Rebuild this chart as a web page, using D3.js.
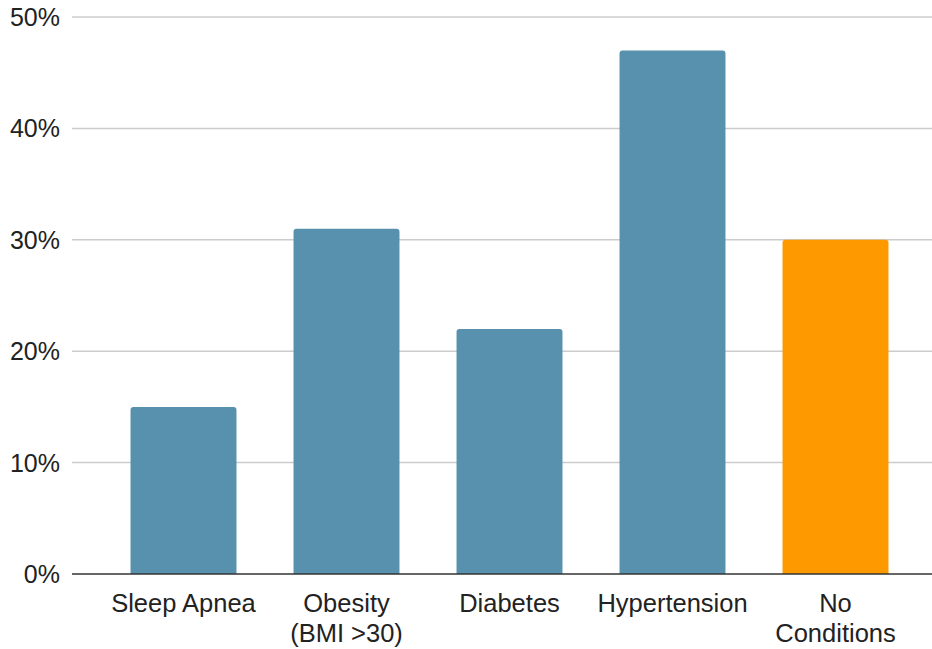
<!DOCTYPE html>
<html>
<head>
<meta charset="utf-8">
<script src="https://cdn.jsdelivr.net/npm/d3@7"></script>
<style>
  html, body { margin: 0; padding: 0; background: #fff; }
  svg { display: block; font-family: "Liberation Sans", Arial, sans-serif; }
</style>
</head>
<body>
<svg id="chart" width="932" height="649"></svg>
<script>
// Share of respondents by condition
const categories = ["Sleep Apnea", "Obesity\n(BMI >30)", "Diabetes", "Hypertension", "No\nConditions"];
const values = [15, 31, 22, 47, 30];
const barColors = ["#5891AE", "#5891AE", "#5891AE", "#5891AE", "#FF9900"];
const yTicks = [0, 10, 20, 30, 40, 50];

const svg = d3.select("#chart");
const gridLeft = 72, gridRight = 932;
const yTop = 17, yBottom = 574;

const x = d3.scaleBand()
  .domain(categories)
  .range([102, 917])
  .paddingInner(0.35)
  .paddingOuter(0.175);

const y = d3.scaleLinear().domain([0, 50]).range([yBottom, yTop]);

// horizontal gridlines
svg.append("g").selectAll("line")
  .data(yTicks.filter(t => t > 0))
  .join("line")
  .attr("x1", gridLeft).attr("x2", gridRight)
  .attr("y1", d => y(d)).attr("y2", d => y(d))
  .attr("stroke", "#cccccc").attr("stroke-width", 1.5);

// y tick labels
svg.append("g").selectAll("text")
  .data(yTicks)
  .join("text")
  .attr("x", 60)
  .attr("y", d => y(d))
  .attr("dy", "0.36em")
  .attr("text-anchor", "end")
  .attr("font-size", 25)
  .attr("fill", "#222")
  .text(d => d + "%");

// bars with slightly rounded top corners
const r = 3;
function barPath(x0, w, yt, yb) {
  return `M${x0},${yb}V${yt + r}Q${x0},${yt} ${x0 + r},${yt}H${x0 + w - r}Q${x0 + w},${yt} ${x0 + w},${yt + r}V${yb}Z`;
}
svg.append("g").selectAll("path")
  .data(categories.map((c, i) => ({ c, v: values[i], col: barColors[i] })))
  .join("path")
  .attr("d", d => barPath(x(d.c), x.bandwidth(), y(d.v), y(0)))
  .attr("fill", d => d.col);

// baseline
svg.append("line")
  .attr("x1", gridLeft).attr("x2", gridRight)
  .attr("y1", y(0)).attr("y2", y(0))
  .attr("stroke", "#333").attr("stroke-width", 1.5);

// category labels (may wrap to two lines)
const lab = svg.append("g").selectAll("text")
  .data(categories)
  .join("text")
  .attr("x", d => x(d) + x.bandwidth() / 2)
  .attr("y", 612)
  .attr("text-anchor", "middle")
  .attr("font-size", 25.5)
  .attr("fill", "#222");
lab.each(function(d) {
  const t = d3.select(this);
  d.split("\n").forEach((line, i) => {
    t.append("tspan")
      .attr("x", x(d) + x.bandwidth() / 2)
      .attr("dy", i === 0 ? 0 : 30)
      .text(line);
  });
});
</script>
</body>
</html>
